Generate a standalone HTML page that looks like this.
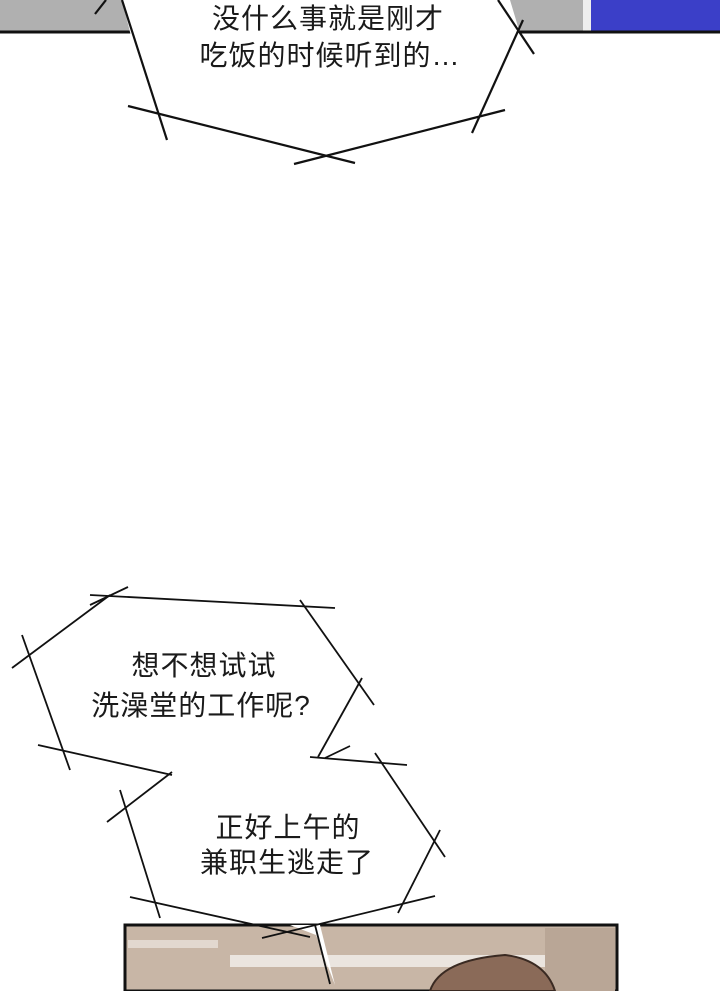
<!DOCTYPE html>
<html><head><meta charset="utf-8"><style>
body{margin:0;width:720px;height:991px;overflow:hidden;background:#fff;}
svg{display:block}
text{font-family:"Liberation Sans","Noto Sans CJK SC",sans-serif;font-size:28px;fill:#1a1a1a;text-anchor:middle;letter-spacing:1px}
</style></head><body>
<svg width="720" height="991" viewBox="0 0 720 991">
<rect x="0" y="0" width="720" height="32" fill="#b0b0b0"/>
<rect x="590" y="0" width="130" height="32" fill="#3b3fc8"/>
<rect x="583" y="0" width="8" height="32" fill="#eee"/>
<line x1="0" y1="32" x2="720" y2="32" stroke="#111" stroke-width="3"/>
<polygon points="122,0 510,0 522,40 475,122 325,163 150,112" fill="#fff"/>
<g stroke="#111" stroke-width="2.2" fill="none">
<line x1="95" y1="14" x2="106" y2="0"/>
<line x1="122" y1="0" x2="167" y2="140"/>
<line x1="128" y1="106" x2="355" y2="163"/>
<line x1="294" y1="164" x2="505" y2="110"/>
<line x1="523" y1="20" x2="472" y2="133"/>
<line x1="498" y1="0" x2="534" y2="54"/>
</g>
<text x="328" y="28">没什么事就是刚才</text>
<text x="330" y="65">吃饭的时候听到的…</text>

<rect x="125" y="925" width="492" height="66" fill="#c8b6a6" stroke="#111" stroke-width="3"/>
<rect x="128" y="940" width="90" height="8" fill="#e2d8cf"/>
<rect x="230" y="955" width="330" height="12" fill="#ebe5df"/>
<rect x="545" y="928" width="70" height="63" fill="#b9a696"/>
<path d="M430,991 Q440,960 505,955 Q545,960 555,991 Z" fill="#8a6a58" stroke="#3a2a22" stroke-width="2"/>
<polygon points="290,925 320,925 335,985 316,935" fill="#fff"/>

<g stroke="#111" stroke-width="1.8" fill="none">
<line x1="90" y1="595" x2="335" y2="608"/>
<line x1="90" y1="605" x2="128" y2="587"/>
<line x1="12" y1="668" x2="110" y2="595"/>
<line x1="22" y1="635" x2="70" y2="770"/>
<line x1="38" y1="745" x2="172" y2="775"/>
<line x1="172" y1="772" x2="107" y2="822"/>
<line x1="120" y1="790" x2="160" y2="918"/>
<line x1="130" y1="897" x2="310" y2="937"/>
<line x1="300" y1="600" x2="374" y2="705"/>
<line x1="362" y1="678" x2="318" y2="757"/>
<line x1="310" y1="757" x2="407" y2="765"/>
<line x1="325" y1="758" x2="350" y2="746"/>
<line x1="375" y1="753" x2="445" y2="857"/>
<line x1="440" y1="830" x2="398" y2="913"/>
<line x1="262" y1="938" x2="435" y2="896"/>
<line x1="315" y1="925" x2="330" y2="984"/>
</g>
<text x="204" y="675">想不想试试</text>
<text x="201" y="715">洗澡堂的工作呢?</text>
<text x="288" y="837">正好上午的</text>
<text x="287" y="872">兼职生逃走了</text>
</svg>
</body></html>
